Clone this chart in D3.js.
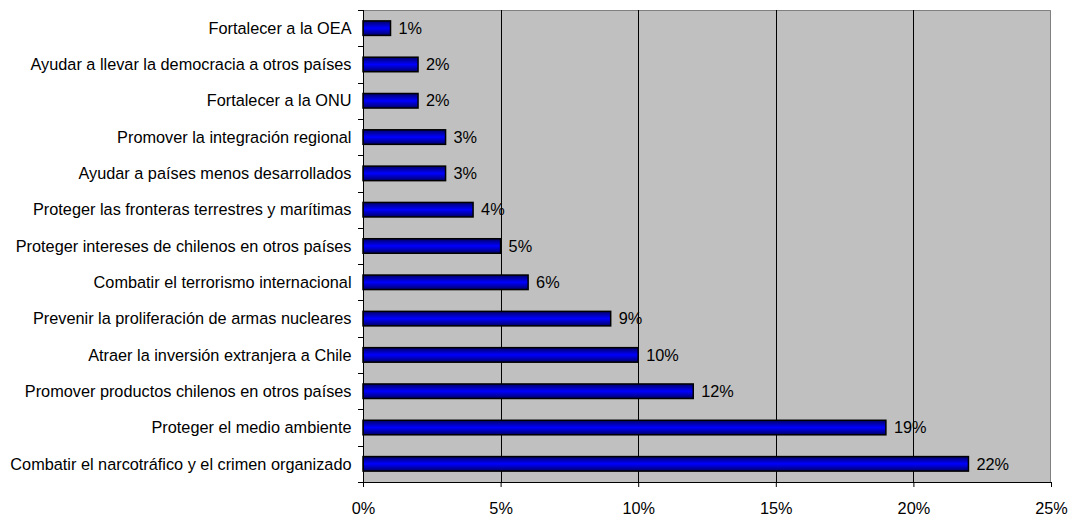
<!DOCTYPE html>
<html>
<head>
<meta charset="utf-8">
<script src="https://cdn.jsdelivr.net/npm/d3@7"></script>
<style>
  body { margin: 0; background: #fff; }
  svg { display: block; font-family: 'Liberation Sans', Arial, sans-serif; }
</style>
</head>
<body>
<div id="chart"></div>
<script>
const categories = [
  'Fortalecer a la OEA',
  'Ayudar a llevar la democracia a otros países',
  'Fortalecer a la ONU',
  'Promover la integración regional',
  'Ayudar a países menos desarrollados',
  'Proteger las fronteras terrestres y marítimas',
  'Proteger intereses de chilenos en otros países',
  'Combatir el terrorismo internacional',
  'Prevenir la proliferación de armas nucleares',
  'Atraer la inversión extranjera a Chile',
  'Promover productos chilenos en otros países',
  'Proteger el medio ambiente',
  'Combatir el narcotráfico y el crimen organizado'
]
const values = [1, 2, 2, 3, 3, 4, 5, 6, 9, 10, 12, 19, 22]
const xTicks = [0, 5, 10, 15, 20, 25]

const margin = { top: 10, right: 29, bottom: 36, left: 363 }
const width = 1080 - margin.left - margin.right
const height = 518 - margin.top - margin.bottom
const fontSize = 16.3

const svg = d3
  .select('#chart')
  .append('svg')
  .attr('width', 1080)
  .attr('height', 518)

const defs = svg.append('defs')
const grad = defs
  .append('linearGradient')
  .attr('id', 'barGrad')
  .attr('x1', 0).attr('y1', 0).attr('x2', 0).attr('y2', 1)
grad.append('stop').attr('offset', '0%').attr('stop-color', '#000066')
grad.append('stop').attr('offset', '50%').attr('stop-color', '#0000ff')
grad.append('stop').attr('offset', '100%').attr('stop-color', '#000066')

const g = svg
  .append('g')
  .attr('transform', 'translate(' + margin.left + ',' + margin.top + ')')

const xScale = d3.scaleLinear().domain([0, 25]).range([0, width])
const yScale = d3.scaleBand().domain(categories).range([0, height]).paddingInner(0.6).paddingOuter(0.3)

// plot background
g.append('rect')
  .attr('width', width)
  .attr('height', height)
  .attr('fill', '#c0c0c0')

// top and right border
g.append('path')
  .attr('d', 'M0,0.5H' + (width - 0.5) + 'V' + height)
  .attr('fill', 'none')
  .attr('stroke', '#808080')
  .attr('stroke-width', 1)

// vertical gridlines
g.selectAll('.grid')
  .data(xTicks.slice(1, -1))
  .enter()
  .append('line')
  .attr('x1', d => Math.round(xScale(d)) + 0.5)
  .attr('x2', d => Math.round(xScale(d)) + 0.5)
  .attr('y1', 0)
  .attr('y2', height)
  .attr('stroke', '#000')

// bars
g.selectAll('.bar')
  .data(values)
  .enter()
  .append('rect')
  .attr('x', 0)
  .attr('y', (d, i) => yScale(categories[i]))
  .attr('width', d => xScale(d))
  .attr('height', yScale.bandwidth())
  .attr('fill', 'url(#barGrad)')
  .attr('stroke', '#000')
  .attr('stroke-width', 1.5)

// value labels
g.selectAll('.val')
  .data(values)
  .enter()
  .append('text')
  .attr('x', d => xScale(d) + 8)
  .attr('y', (d, i) => yScale(categories[i]) + yScale.bandwidth() / 2)
  .attr('dy', '0.35em')
  .attr('font-size', fontSize)
  .attr('fill', '#000')
  .text(d => d + '%')

// x axis
const xAxis = d3
  .axisBottom(xScale)
  .tickValues(xTicks)
  .tickSize(5)
  .tickPadding(15)
  .tickFormat(d => d + '%')

g.append('g')
  .attr('class', 'x-axis')
  .attr('transform', 'translate(0,' + height + ')')
  .call(xAxis)
  .call(s => s.selectAll('text').attr('font-size', fontSize).attr('font-family', null).attr('fill', '#000'))
  .call(s => s.selectAll('line,path').attr('stroke', '#000'))

// y axis: ticks between categories
const step = height / categories.length
const yTickPos = d3.range(categories.length + 1).map(i => i * step)
g.selectAll('.ytick')
  .data(yTickPos)
  .enter()
  .append('line')
  .attr('x1', -5)
  .attr('x2', 0)
  .attr('y1', d => Math.round(d) + 0.5)
  .attr('y2', d => Math.round(d) + 0.5)
  .attr('stroke', '#000')

g.append('line')
  .attr('x1', 0.5).attr('x2', 0.5)
  .attr('y1', 0).attr('y2', height)
  .attr('stroke', '#000')

g.selectAll('.ylab')
  .data(categories)
  .enter()
  .append('text')
  .attr('x', -11.5)
  .attr('y', d => yScale(d) + yScale.bandwidth() / 2)
  .attr('dy', '0.35em')
  .attr('text-anchor', 'end')
  .attr('font-size', fontSize)
  .attr('fill', '#000')
  .text(d => d)
</script>
</body>
</html>
